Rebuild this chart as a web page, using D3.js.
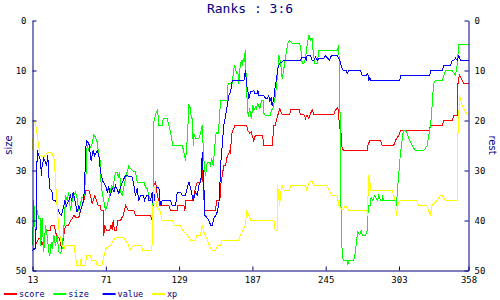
<!DOCTYPE html>
<html>
<head>
<meta charset="utf-8">
<script src="https://cdn.jsdelivr.net/npm/d3@7"></script>
<style>
  body { margin: 0; background: #fff; }
  #chart { width: 500px; height: 300px; }
</style>
</head>
<body>
<div id="chart"></div>
<script>
// rank series, [turn, rank] pairs
const seriesNames = ["score", "size", "value", "xp"];
const seriesColors = ["#ff0000", "#00ff00", "#0000ff", "#ffff00"];

const score = [
  [13, 45.6], [15.4, 45.6], [15.4, 44.9], [18, 43.6], [19.3, 43.6], [20.6, 44.9], [22, 43.6], [23.3, 41.9],
  [27.2, 41.9], [27.8, 40.9], [30.4, 40.9], [31.2, 42.3], [32.5, 43.3], [33.8, 43.3], [35.1, 44.3], [35.9, 45.6],
  [37, 44.3], [37.8, 42.9], [38.6, 41.6], [39.9, 40.9], [41.7, 40.9], [42.5, 40.3], [44.4, 39.6], [45.7, 39],
  [47, 39.3], [49.7, 39.3], [51, 38], [52.3, 37], [54.4, 35.3], [54.9, 34], [57.6, 34], [58.9, 35], [60.2, 36.6],
  [61.5, 35.6], [62.3, 35], [63.6, 36], [65, 37], [66.8, 37], [67.3, 38], [68.9, 38], [69.4, 43], [70.2, 41],
  [71.5, 41.9], [74.2, 41.9], [75.2, 40.9], [76, 41.9], [76.8, 40], [77.9, 41.9], [79.5, 41.9], [80.5, 40],
  [82.6, 40], [84.7, 39], [86.6, 37], [88.9, 38], [93.2, 38], [94.5, 39], [106.4, 39], [107.7, 40], [109, 33],
  [110.5, 32.3], [111.7, 34.9], [113, 36], [113.8, 37], [120.9, 37], [122.2, 38], [127.5, 38], [128, 37],
  [132.8, 37], [133.6, 38], [134.1, 36], [139.4, 36], [140.7, 35], [141.5, 34], [143.3, 32.3], [146, 32.3],
  [146.8, 31.3], [147.3, 30], [148.1, 33], [148.6, 35.6], [149.4, 38], [157.9, 38], [158.6, 36], [161.3, 36],
  [161.8, 33], [163.1, 31], [164.4, 29], [165.8, 29], [166.6, 27.6], [168.4, 26.6], [169.2, 26], [169.7, 26.6],
  [170.3, 23.6], [171, 22.3], [173.2, 21], [182.4, 21], [183.4, 22], [185, 22.6], [186, 22.3], [188, 24],
  [189.5, 22.9], [195, 22.9], [196, 24.9], [202.6, 24.9], [203.4, 22.9], [204, 21], [205, 21], [206.6, 19.3],
  [207.9, 18.3], [208.7, 17.7], [210.5, 18.8], [216.6, 18.8], [217.2, 17.7], [223.8, 17.7], [225.1, 18.8],
  [227.7, 18.8], [229, 19.6], [230.3, 18.9], [231.6, 19.6], [233, 18.6], [234.3, 17.9], [235.6, 18.8],
  [251.4, 18.8], [252.8, 17.9], [254.6, 17.3], [256.2, 21.6], [256.7, 20], [257.2, 23], [258, 25.6], [259.4, 26],
  [277.8, 26], [278.3, 25], [279.9, 24], [288.3, 24], [289.6, 25], [298.8, 25], [300.2, 24], [302.8, 23],
  [304.2, 22], [326.6, 22], [327.9, 21], [337.1, 21], [338.5, 20], [345, 20], [346.4, 19], [349, 19],
  [349.5, 12.9], [350.8, 10.9], [352.2, 11.6], [354.3, 12.6], [358, 12.6]
];

const size = [
  [13, 45], [14, 36], [15.4, 43.6], [16.7, 38], [18, 39.6], [19.3, 39.6], [19.5, 45], [20.6, 39.6], [21.9, 46.3],
  [23.3, 41], [24.6, 43], [25.9, 46.3], [26.7, 47], [27.8, 44.3], [28.5, 45.6], [29.9, 43], [31.2, 45], [32.5, 43],
  [33.8, 46.3], [35.1, 46.6], [36.5, 45.6], [37.8, 41.6], [38.6, 38.3], [39.1, 35], [40.4, 36], [41.7, 34.3],
  [42.5, 36.6], [43.1, 38], [44.4, 36], [45.7, 35], [47, 34.3], [48.3, 35.6], [49.7, 38], [51, 36.6], [52.3, 35.3],
  [53.6, 35.6], [54.4, 33.3], [55.5, 30.3], [56.2, 25], [57.6, 26], [60.2, 24.6], [61.5, 22.9], [62.8, 23.3],
  [64.2, 24.3], [65.5, 27], [66.8, 28.3], [67.3, 33], [68.1, 34.3], [69.4, 36], [70.8, 38], [72.1, 37],
  [73.4, 35.6], [74.7, 34.3], [75.5, 33], [76.8, 33.6], [77.9, 31.3], [78.7, 30.3], [80, 30.3], [80.8, 31.3],
  [82.1, 30.3], [82.6, 34.3], [83.9, 35], [85.3, 33.3], [86.6, 31.6], [87.9, 30.3], [89.2, 29], [90.5, 29.6],
  [91.9, 30], [94.5, 30.3], [95.8, 32.3], [101.1, 32.3], [102.4, 33.3], [103.8, 33.6], [105.1, 35], [106.4, 36],
  [107.7, 36], [108.5, 37], [109, 20.3], [110.5, 18.6], [111.7, 18], [112.2, 18.6], [113, 21], [115.6, 21],
  [116.4, 19.6], [119.6, 19.6], [120.9, 21], [122.2, 22.3], [123, 23.6], [124.1, 25], [131.5, 25], [132.8, 26.3],
  [134.1, 28], [135.4, 24], [136.8, 17], [138.1, 17.6], [138.6, 19.6], [139.4, 19.6], [140.2, 25], [140.7, 22.6],
  [142, 23.6], [144.7, 23.6], [146, 22.6], [147.3, 21], [148.1, 25.6], [149.1, 29.6], [149.9, 31], [151.3, 28.3],
  [152.6, 28.3], [153.9, 29], [154.7, 27.6], [156, 29], [157.1, 25.6], [158.4, 22.3], [160, 22.6], [160.5, 21],
  [161.8, 16], [167.1, 16], [167.6, 12.9], [168.4, 12.6], [171, 12.6], [172.4, 9.6], [173.2, 9], [174.5, 10.6],
  [175.5, 10.3], [176.3, 12.6], [177.1, 9.6], [178.2, 8], [179, 9], [179.8, 7.6], [180.8, 8.3], [181.3, 5.9],
  [182.4, 13.6], [182.9, 16.3], [183.7, 19.3], [184.8, 17.6], [186.1, 19.6], [187.4, 17], [188.2, 18],
  [189.5, 17.3], [190.2, 17.6], [191.3, 16.6], [192.9, 17.6], [194.2, 16], [195.5, 16], [196.1, 18.6],
  [197.4, 19], [201.3, 19], [201.9, 18], [203.4, 17.5], [204.8, 15.6], [206.1, 13], [207.1, 10], [207.9, 7],
  [209.2, 8.3], [210.6, 11.6], [211.9, 9.6], [214, 6], [215.3, 4.3], [216.6, 4], [218.5, 4.6], [224.5, 4.6],
  [225.6, 6.3], [226.4, 8.6], [227.7, 8.6], [229, 7.6], [230.3, 4.9], [231.7, 2.9], [233, 3.9], [234.3, 3.6],
  [235.1, 6.3], [236.4, 8.6], [238.3, 8.6], [239.6, 5.9], [254.6, 5.9], [255, 4.9], [255.4, 5.9], [255.9, 10],
  [256.5, 21.6], [256.7, 33], [258, 46.3], [258.8, 47.9], [262, 47.9], [262.5, 48.9], [263.3, 47.9],
  [267.3, 47.9], [268.6, 46.3], [269.4, 44], [270.4, 42.3], [272, 42.9], [273.1, 41.9], [273.9, 42.9],
  [276.5, 42.9], [278, 41.9], [278.3, 39], [279, 37], [280.4, 37], [280.9, 35.3], [282.3, 36], [283.6, 35],
  [286.2, 36], [287, 35], [288.3, 36], [289.6, 36], [289.6, 35], [291, 36], [300.2, 36], [301, 37], [302.3, 32.3],
  [303.6, 28.3], [304.2, 26.3], [305, 25], [306, 22.6], [306.8, 22], [308.1, 22], [309.4, 22.6], [310.8, 23.6],
  [313.4, 25], [316, 26], [322.6, 26], [325.3, 25], [326.6, 23], [327.9, 21], [328.7, 19], [329.7, 15],
  [330.5, 12.6], [331.8, 12], [337.1, 12], [338.5, 11], [339.8, 10], [345, 10], [347.7, 11], [349, 9],
  [350.3, 4.8], [358, 4.8]
];

const value = [
  [13, 46], [15, 45.6], [15.6, 45], [16.1, 36], [16.7, 26], [18, 27], [19.3, 28], [20.1, 31], [20.6, 29],
  [21.9, 27.6], [23.3, 28.3], [24.1, 29], [25.1, 27], [25.9, 31], [26.7, 33.6], [28.5, 34.3], [29.3, 36],
  [31.2, 36], [32.5, 37], [33.8, 38.3], [35.7, 39], [37.3, 37.6], [38.6, 36], [39.9, 37], [41.7, 36], [43.1, 35],
  [43.8, 36], [45.2, 34.3], [46.5, 36], [48.3, 38.3], [49.7, 37], [51, 38], [52.3, 37], [53.6, 35.6],
  [54.4, 31.3], [55.5, 24], [57.6, 24.6], [58.4, 26], [59.4, 28], [61, 26], [62.1, 27], [64.2, 26], [65.5, 27],
  [66.8, 30.3], [68.9, 32.3], [70.8, 33], [72.1, 34.3], [73.4, 33.3], [74.7, 35], [76, 33.6], [77.4, 34.3],
  [78.7, 33], [81.3, 34.6], [82.6, 33.3], [84.7, 32], [86.6, 31], [91.9, 31.3], [93.2, 33], [94.5, 35],
  [95.8, 33.6], [97.1, 36], [98.5, 35], [100.6, 35], [101.7, 36], [103.2, 35], [104.8, 35], [105.1, 36],
  [106.4, 36], [107.7, 34.3], [108.5, 37], [109.6, 35.6], [110.4, 33.3], [113, 33.3], [113.8, 36], [114.8, 37],
  [115.6, 36], [122.2, 36], [123.5, 37], [126.2, 37], [127.5, 34.3], [130.2, 34.3], [131.5, 35], [134.1, 35],
  [134.9, 34], [136.8, 32.3], [139.4, 35], [140.2, 36], [142, 34.3], [143.3, 35], [144.7, 33], [146, 32.3],
  [146.8, 30.3], [147.3, 26.3], [148.1, 31], [148.6, 33], [149.4, 39], [150.7, 39.3], [152.6, 40], [153.9, 40.9],
  [155.2, 40.9], [156.5, 39.6], [157.9, 39], [159.2, 38.3], [160.5, 36.6], [161.3, 33], [161.8, 29], [163.1, 25],
  [164.4, 21], [165.8, 19], [167.1, 17], [168.4, 15], [169.7, 14.3], [170.5, 13], [171, 12], [180.3, 12],
  [180.8, 11], [181.6, 10], [182.4, 13], [183.4, 14], [184.2, 15.6], [185.6, 14.3], [188.1, 14], [188.7, 14.6],
  [190.7, 14.6], [191.3, 14], [192, 15], [196.1, 15], [197.4, 15.6], [198.7, 15.6], [200, 15], [200.8, 16.3],
  [201.9, 15.3], [202.6, 17], [204, 15.6], [204.5, 14], [205.3, 13], [206.1, 11.6], [207.1, 9.6], [207.9, 9],
  [209.2, 8.3], [210.6, 8.3], [211.4, 8], [225, 8], [226.4, 7.3], [228.5, 7.3], [229.5, 8], [230.3, 7], [233, 7],
  [234.3, 8], [235.6, 8], [236.9, 7.3], [238.3, 8], [239.6, 7.6], [243.5, 7.6], [244.9, 7], [248, 8], [249.5, 7],
  [254.1, 7], [255.4, 7.6], [256.2, 8], [257.2, 9], [258.8, 10], [261.4, 10], [262, 10.6], [263.3, 10],
  [272.5, 10], [273.8, 11], [277.2, 11], [278.3, 10.6], [279.1, 12], [279.9, 11.3], [280.4, 12], [303.6, 12],
  [304.2, 11], [327.4, 11], [327.9, 10], [337.1, 10], [338.5, 9], [343.7, 9], [345, 8], [346.4, 8], [347.7, 7.5],
  [349, 8], [350.3, 7], [351.6, 8], [358, 8]
];

const xp = [
  [13, 26], [14, 20], [15, 20.5], [16, 21.5], [17, 23.5], [19, 27], [22, 27.3], [25, 26.3], [28, 26.3],
  [30, 27.6], [31, 31], [32, 35.6], [33, 38.9], [34, 42], [36, 44.9], [38, 45.6], [39, 45], [46, 45], [47, 47.3],
  [48, 48.9], [51, 48.9], [51.5, 47.3], [52, 48.9], [55, 48.9], [55.7, 46.9], [59, 46.9], [59.5, 47.9],
  [63, 47.9], [64, 48.9], [68, 48.9], [69, 47.6], [71, 45.6], [75, 44.9], [77, 43.9], [80, 43.3], [85, 43.3],
  [86, 43.9], [89, 44.9], [90, 45.9], [93, 44.9], [99, 44.9], [100, 45.9], [107.5, 45.9], [108, 39], [109, 33.3],
  [110, 33.3], [111, 37], [114.3, 38.3], [115.5, 39.9], [123.5, 39.9], [125, 40.9], [130, 40.9], [131.5, 41.9],
  [135.5, 42.9], [138, 43.9], [142, 43.9], [143, 42.9], [146, 42.9], [147.3, 40.9], [148.5, 42.3], [151, 43.6],
  [152.5, 44.9], [155, 45.9], [158, 45.9], [159.5, 44.9], [162, 44.9], [163, 43.9], [176, 43.9], [177.6, 42.9],
  [181.6, 40.9], [182.4, 37.9], [184, 38.9], [185.6, 39.9], [204, 39.9], [205, 41.9], [206.5, 41.9], [207, 33],
  [208.5, 37], [209.5, 34.3], [210.5, 33], [212, 33.9], [216.6, 33.9], [217, 33], [229, 33], [230, 33.9],
  [231.5, 32.6], [234, 32], [235.5, 33], [246, 33], [247.5, 33.9], [250, 35], [254, 35], [255.5, 37], [258, 37.9],
  [261, 37], [263, 37.9], [277.5, 37.9], [278, 39], [279, 31], [280, 32.3], [280.5, 33.9], [297.5, 33.9],
  [298.8, 35], [300, 36], [301, 39], [302, 37], [303.5, 36], [317, 36], [318.5, 37], [325, 37], [327.9, 39],
  [329, 37], [333, 36], [335.8, 35], [337, 35], [339.8, 36], [349, 36], [349.5, 23.6], [351, 15], [353, 17],
  [355.6, 18.3], [358, 19]
];

const seriesData = [score, size, value, xp];
const xTicks = [13, 71, 129, 187, 245, 303, 358];
const yTicks = [0, 10, 20, 30, 40, 50];
const titleText = "Ranks : 3:6";

function rankChart(params) {
  const container = d3.select(params.container);

  const width = 500;
  const height = 300;
  const marginTop = 20;
  const marginBottom = 30;
  const marginLeft = 32;
  const marginRight = 32;
  const axisColor = "#000080";

  const xScale = d3.scaleLinear().domain([13, 358]).range([marginLeft, width - marginRight]);
  const yScale = d3.scaleLinear().domain([0, 50]).range([marginTop, height - marginBottom]);

  const svg = container.append("svg").attr("width", width).attr("height", height);

  // lines first, axes on top
  const line = d3.line().x((d) => xScale(d[0])).y((d) => yScale(d[1]));

  svg.append("g")
    .selectAll("path")
    .data(seriesData)
    .join("path")
    .attr("d", line)
    .attr("fill", "none")
    .attr("stroke", (d, i) => seriesColors[i])
    .attr("stroke-width", 1)
    .attr("shape-rendering", "crispEdges")
    .attr("transform", "translate(0.5,0.5)");

  const tickFont = (sel) => sel.selectAll("text")
    .attr("fill", "#000")
    .style("font-family", "'DejaVu Sans Mono', monospace")
    .style("font-size", "9px");

  const styleAxis = (sel) => {
    sel.select(".domain").attr("stroke", axisColor).attr("stroke-width", 1);
    sel.selectAll(".tick line").attr("stroke", axisColor);
    tickFont(sel);
  };

  const xAxis = d3.axisBottom(xScale).tickValues(xTicks).tickSizeInner(-4).tickSizeOuter(0).tickPadding(6);
  const yLeft = d3.axisLeft(yScale).tickValues(yTicks).tickSizeInner(-4).tickSizeOuter(0).tickPadding(6);
  const yRight = d3.axisRight(yScale).tickValues(yTicks).tickSizeInner(-4).tickSizeOuter(0).tickPadding(6);

  svg.append("g")
    .attr("transform", `translate(0.5, ${height - marginBottom + 0.5})`)
    .call(xAxis)
    .call(styleAxis);

  svg.append("g")
    .attr("transform", `translate(${marginLeft + 0.5}, 0.5)`)
    .call(yLeft)
    .call(styleAxis);

  svg.append("g")
    .attr("transform", `translate(${width - marginRight + 0.5}, 0.5)`)
    .call(yRight)
    .call(styleAxis);

  // title and axis labels
  svg.append("text")
    .attr("x", width / 2)
    .attr("y", 13)
    .attr("text-anchor", "middle")
    .attr("fill", axisColor)
    .style("font-family", "'DejaVu Sans Mono', monospace")
    .style("font-size", "13px")
    .text(titleText);

  svg.append("text")
    .attr("transform", `translate(12, ${(marginTop + height - marginBottom) / 2}) rotate(-90)`)
    .attr("text-anchor", "middle")
    .attr("fill", axisColor)
    .style("font-family", "'DejaVu Sans', sans-serif")
    .style("font-size", "10px")
    .text("size");

  svg.append("text")
    .attr("transform", `translate(489, ${(marginTop + height - marginBottom) / 2}) rotate(90)`)
    .attr("text-anchor", "middle")
    .attr("fill", axisColor)
    .style("font-family", "'DejaVu Sans', sans-serif")
    .style("font-size", "10px")
    .text("rest");

  // legend
  const legend = svg.append("g")
    .selectAll("g")
    .data(seriesNames)
    .join("g")
    .attr("transform", (d, i) => `translate(${4 + i * 49.3}, 294)`);

  legend.append("line")
    .attr("x1", 0).attr("x2", 13)
    .attr("y1", 0).attr("y2", 0)
    .attr("stroke", (d, i) => seriesColors[i])
    .attr("stroke-width", 2);

  legend.append("text")
    .attr("x", 15)
    .attr("y", 3)
    .attr("fill", axisColor)
    .style("font-family", "'DejaVu Sans Mono', monospace")
    .style("font-size", "8.5px")
    .text((d) => d);
}

rankChart({ container: "#chart" });
</script>
</body>
</html>
